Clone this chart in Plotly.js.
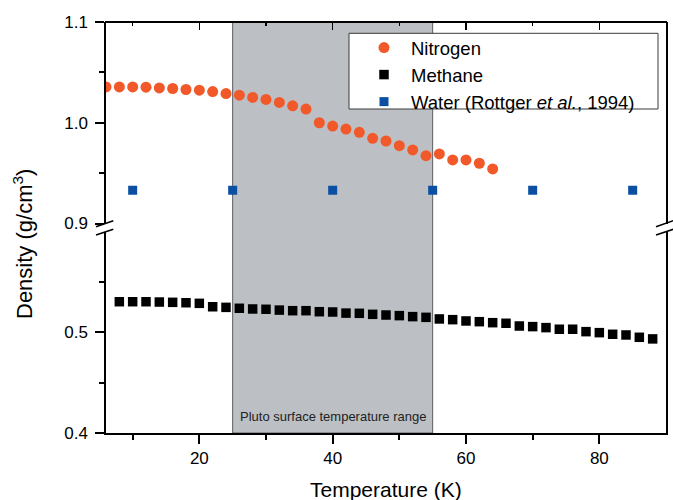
<!DOCTYPE html>
<html>
<head>
<meta charset="utf-8">
<script src="https://cdn.plot.ly/plotly-3.0.1.min.js"></script>
<style>
  html, body { margin: 0; padding: 0; background: #fff; }
  #wrap { position: relative; width: 673px; height: 500px; }
  #chart { width: 673px; height: 500px; }
  .edge { position: absolute; background: #000; pointer-events: none; }
</style>
</head>
<body>
<div id="wrap"><div id="chart"></div></div>
<script>
// Solid densities versus temperature (g/cm^3)
const nitrogenT = [6, 8, 10, 12, 14, 16, 18, 20, 22, 24, 26, 28, 30, 32, 34, 36, 38, 40,
                   42, 44, 46, 48, 50, 52, 54, 56, 58, 60, 62, 64];
const nitrogenRho = [1.0356, 1.0356, 1.0356, 1.0353, 1.0346, 1.0340, 1.0330, 1.0323, 1.0310,
                     1.0290, 1.0274, 1.0251, 1.0231, 1.0202, 1.0168, 1.0136, 1.0000, 0.9967,
                     0.9937, 0.9905, 0.9845, 0.9819, 0.9772, 0.9730, 0.9673, 0.9690, 0.9631,
                     0.9631, 0.9598, 0.9542];

const methaneT = [8, 10, 12, 14, 16, 18, 20, 22, 24, 26, 28, 30, 32, 34, 36, 38, 40, 42, 44,
                  46, 48, 50, 52, 54, 56, 58, 60, 62, 64, 66, 68, 70, 72, 74, 76, 78, 80, 82,
                  84, 86, 88];
const methaneRho = [0.5303, 0.5303, 0.5303, 0.5300, 0.5297, 0.5293, 0.5287, 0.5253, 0.5247,
                    0.5238, 0.5231, 0.5228, 0.5220, 0.5214, 0.5214, 0.5204, 0.5201, 0.5190,
                    0.5188, 0.5178, 0.5171, 0.5165, 0.5155, 0.5148, 0.5132, 0.5125, 0.5112,
                    0.5105, 0.5095, 0.5089, 0.5062, 0.5056, 0.5046, 0.5030, 0.5030, 0.5006,
                    0.4996, 0.4980, 0.4973, 0.4950, 0.4934];

const waterT = [10, 25, 40, 55, 70, 85];
const waterRho = [0.933, 0.933, 0.933, 0.933, 0.933, 0.933];

// Pluto surface temperature range (K)
const plutoRange = [25, 55];

const xTicks = [20, 40, 60, 80];
const xMinor = [10, 30, 50, 70];
const lowTicks = [0.4, 0.5];
const lowMinor = [0.45, 0.55];
const highTicks = [0.9, 1.0, 1.1];
const highMinor = [0.95, 1.05];

const FONT = 'Liberation Sans, Arial, Helvetica, sans-serif';
const INK = '#000';

// Upper panel (y2) holds N2 and H2O ice; lower panel (y) holds CH4 ice
const traces = [
  {
    name: 'Nitrogen', x: nitrogenT, y: nitrogenRho, xaxis: 'x', yaxis: 'y2',
    type: 'scatter', mode: 'markers',
    marker: { symbol: 'circle', size: 11, color: '#f1592a' }
  },
  {
    name: 'Methane', x: methaneT, y: methaneRho, xaxis: 'x', yaxis: 'y',
    type: 'scatter', mode: 'markers',
    marker: { symbol: 'square', size: 9.5, color: '#000000' }
  },
  {
    name: 'Water (Rottger <i>et al.</i>, 1994)', x: waterT, y: waterRho, xaxis: 'x', yaxis: 'y2',
    type: 'scatter', mode: 'markers',
    marker: { symbol: 'square', size: 9, color: '#0b4fa3' }
  }
];

// Geometry of the broken density axis (plot-area pixels)
const marginL = 106, marginT = 22;
const plotH = 411, plotW = 560;
const panelH = 201.5;
const lowTop = panelH / plotH;
const highBottom = (plotH - panelH) / plotH;

// pixel -> paper helpers for the decorations
const px = function (v) { return (v - marginL) / plotW; };
const py = function (v) { return (plotH + marginT - v) / plotH; };

const axisCommon = {
  showline: true, linecolor: INK, linewidth: 1.5,
  ticks: 'outside', tickcolor: INK, tickwidth: 1.5, ticklen: 9,
  showgrid: false, zeroline: false,
  tickfont: { family: FONT, size: 17, color: INK }
};

// Break marks drawn across the left and right frame lines
function breakMarks(xc) {
  const marks = [];
  [[226.7, 220.7], [235, 229.3]].forEach(function (p) {
    marks.push({
      type: 'line', xref: 'paper', yref: 'paper',
      x0: xc - 10 / plotW, x1: xc + 7.3 / plotW,
      y0: py(p[0]), y1: py(p[1]),
      line: { color: INK, width: 1.5 }
    });
  });
  return marks;
}

const shapes = [
  {
    type: 'rect', xref: 'x', yref: 'paper', layer: 'below',
    x0: plutoRange[0], x1: plutoRange[1], y0: 0, y1: 1,
    fillcolor: '#bcc0c4', line: { color: '#5a5d60', width: 1 }
  },
  // legend frame
  {
    type: 'rect', xref: 'paper', yref: 'paper', layer: 'above',
    x0: px(349), x1: px(658), y0: py(109), y1: py(33.3),
    fillcolor: '#ffffff', line: { color: '#3a3a3a', width: 1 }
  }
].concat(breakMarks(0), breakMarks(1));

const layout = {
  width: 673, height: 500,
  margin: { l: marginL, r: 7, t: marginT, b: 67 },
  paper_bgcolor: '#ffffff', plot_bgcolor: 'rgba(0,0,0,0)',
  font: { family: FONT, color: INK },
  showlegend: true,
  legend: {
    x: px(357), y: py(29), xanchor: 'left', yanchor: 'top',
    bgcolor: 'rgba(0,0,0,0)', borderwidth: 0,
    font: { family: FONT, size: 18.5, color: INK },
    itemwidth: 44
  },
  xaxis: Object.assign({}, axisCommon, {
    range: [6, 90], anchor: 'y', tickvals: xTicks,
    minor: { tickvals: xMinor, ticklen: 5, tickcolor: INK, tickwidth: 1.5, ticks: 'outside' }
  }),
  yaxis: Object.assign({}, axisCommon, {
    domain: [0, lowTop], range: [0.4, 0.4 + panelH / 1007.5], anchor: 'x',
    mirror: true, tickvals: lowTicks, tickformat: '.1f', ticklabelstandoff: 4,
    minor: { tickvals: lowMinor, ticklen: 5, tickcolor: INK, tickwidth: 1.5, ticks: 'outside' }
  }),
  yaxis2: Object.assign({}, axisCommon, {
    domain: [highBottom, 1], range: [0.9, 1.1], anchor: 'x',
    mirror: true, tickvals: highTicks, tickformat: '.1f', ticklabelstandoff: 4,
    minor: { tickvals: highMinor, ticklen: 5, tickcolor: INK, tickwidth: 1.5, ticks: 'outside' }
  }),
  shapes: shapes,
  annotations: [
    {
      text: 'Pluto surface temperature range', xref: 'x', yref: 'paper',
      x: (plutoRange[0] + plutoRange[1]) / 2, y: py(416), xanchor: 'center', yanchor: 'middle',
      showarrow: false, font: { family: FONT, size: 13, color: '#222' }
    },
    {
      text: 'Temperature (K)', xref: 'paper', yref: 'paper',
      x: 0.5, y: py(489), xanchor: 'center', yanchor: 'middle',
      showarrow: false, font: { family: FONT, size: 21, color: INK }
    },
    {
      text: 'Density (g/cm<sup>3</sup>)', xref: 'paper', yref: 'paper',
      x: px(23), y: py(244), xanchor: 'center', yanchor: 'middle',
      textangle: -90, showarrow: false, font: { family: FONT, size: 22, color: INK }
    }
  ]
};

// Top frame edge with inward ticks, placed with the x axis scale
function addTopEdge(gd) {
  const wrap = document.getElementById('wrap');
  const xa = gd._fullLayout.xaxis;
  const top = gd._fullLayout._size.t;
  const left = gd._fullLayout._size.l;
  function bar(x, y, w, h) {
    const d = document.createElement('div');
    d.className = 'edge';
    d.style.left = x + 'px'; d.style.top = y + 'px';
    d.style.width = w + 'px'; d.style.height = h + 'px';
    wrap.appendChild(d);
  }
  bar(left - 0.75, top - 0.75, xa._length + 1.5, 1.5);
  xTicks.forEach(function (v) { bar(left + xa.l2p(v) - 0.75, top, 1.5, 8); });
  xMinor.forEach(function (v) { bar(left + xa.l2p(v) - 0.75, top, 1.5, 4); });
}

Plotly.newPlot('chart', traces, layout, { displayModeBar: false }).then(addTopEdge);
</script>
</body>
</html>
